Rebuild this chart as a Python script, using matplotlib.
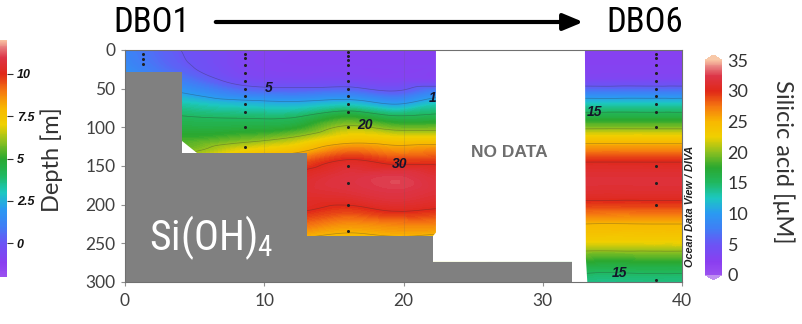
import numpy as np
import matplotlib
matplotlib.use("Agg")
import matplotlib.pyplot as plt
import matplotlib.tri as mtri
from matplotlib.colors import LinearSegmentedColormap, Normalize
from matplotlib.cm import ScalarMappable
from matplotlib.patches import Polygon, FancyArrowPatch

# ---------------- data ----------------
grid_x = [0, 4, 8.6, 12, 16, 19.5, 22.5, 33, 38, 40]
grid_depth = [0, 20, 40, 55, 70, 85, 100, 115, 130, 145, 165, 185, 205, 225, 245, 265, 285, 300]

si_x0 = [8, 8.5, 10, 12, 14, 16, 18, 20, 22, 24, 26, 27, 27, 26, 25, 24, 22, 21]
si_x4 = [5, 5.5, 7.5, 10, 13, 15, 16.5, 18, 19.5, 22, 25, 27, 27, 26, 25, 24, 22, 21]
si_x8 = [3, 3, 4, 7, 11.5, 14.5, 16.5, 19, 22.5, 26, 29, 30, 30, 28, 26, 24, 22, 21]
si_x12 = [2.5, 2.5, 3.5, 6.5, 11, 14.5, 17, 20.5, 24, 28, 30.5, 31, 30.5, 28, 25, 23, 21, 20]
si_x16 = [2.5, 2.5, 3.5, 7, 12, 17, 20.5, 23.5, 27.5, 30.5, 32, 31.5, 29.5, 26.5, 24, 22, 20, 19]
si_x19 = [2.5, 2.5, 3, 5.5, 10, 15, 19, 23, 26.5, 29.5, 32.6, 32.2, 30.5, 27, 24.5, 22, 20, 19]
si_x22 = [2.5, 2.5, 3, 8, 12.5, 15.5, 19, 23, 27, 29.5, 31.5, 31.5, 30, 27, 24, 22, 20, 19]
si_x33 = [2.5, 2.5, 3.5, 7.5, 12.5, 16, 19.5, 23.5, 27, 30, 31.5, 31, 28.5, 25, 23, 19, 15.5, 14]
si_x38 = [2.5, 2.5, 3.5, 7.5, 12.5, 16, 19.5, 23.5, 27, 30, 31.5, 31, 28.5, 25, 23, 19, 15.5, 14]
si_x40 = [2.5, 2.5, 3.5, 7.5, 12.5, 16, 19.5, 23.5, 27, 30, 31.5, 31, 28.5, 25, 23, 19, 15.5, 14]

station_x = [1.3, 8.6, 16.0, 38.1]
station_depths = [
    [5, 11, 18],
    [5, 10, 20, 30, 40, 50, 60, 70, 80, 100, 125],
    [3, 8, 13, 20, 30, 40, 50, 60, 70, 80, 100, 150, 172, 200, 234],
    [5, 10, 20, 30, 40, 50, 60, 70, 80, 100, 150, 172, 200, 297],
]

contour_labels = ["5", "20", "30", "10", "15", "15"]
contour_label_x = [10.3, 17.2, 19.75, 22.4, 33.75, 35.5]
contour_label_depth = [49.6, 97.5, 147, 62, 80, 288]

bathy_x = [0, 4.1, 4.1, 13.05, 13.05, 22.1, 22.1, 32.1, 32.1, 0]
bathy_depth = [28, 28, 133, 133, 241, 241, 274, 274, 300, 300]

nodata_x = [22.33, 33.03, 33.1, 33.2, 32.1, 32.1, 22.1, 22.1, 22.33]
nodata_depth = [0, 0, 270, 300, 300, 274, 274, 241, 236]

xticks = [0, 10, 20, 30, 40]
yticks = [0, 50, 100, 150, 200, 250, 300]
cb_ticks = [0, 5, 10, 15, 20, 25, 30, 35]
left_cb_ticks = [0, 2.5, 5, 7.5, 10]
left_cb_labels = ["0", "2.5", "5", "7.5", "10"]

# ---------------- colormap (ODV-like) ----------------
cstops = [
    (0.0, '#9a50f0'), (2, '#8a3ef0'), (5, '#6a55f5'), (7.5, '#3f7ff5'),
    (10, '#2a9af2'), (12.5, '#1cc8c0'), (15, '#20b860'), (17.5, '#2aa830'),
    (20, '#8cc020'), (22.5, '#f0d000'), (25, '#f8b800'), (27.5, '#f57810'),
    (30, '#e02818'), (32.5, '#dd3548'), (34, '#e88080'), (35, '#f8c0a0'),
]
cmap = LinearSegmentedColormap.from_list('odv', [(v / 35.0, c) for v, c in cstops])
cmap.set_under('#c090f0')
cmap.set_over('#f8c8a8')

narrow = ['Liberation Sans Narrow', 'Arial Narrow', 'Roboto Condensed', 'Noto Sans Condensed',
          'Open Sans Condensed', 'Liberation Sans']

W, H = 802, 324
fig = plt.figure(figsize=(W / 100, H / 100), dpi=100)
ax = fig.add_axes([125 / W, 1 - 282 / H, 557 / W, 232 / H])

X, D = np.meshgrid(grid_x, grid_depth)
Z = np.array([si_x0, si_x4, si_x8, si_x12, si_x16, si_x19, si_x22, si_x33, si_x38, si_x40]).T

# smooth rendering of the gridded field with matplotlib's cubic triangle interpolator
tri = mtri.Triangulation(X.ravel(), D.ravel() / 7.5)
interp = mtri.CubicTriInterpolator(tri, Z.ravel(), kind='geom')
xf, df = np.meshgrid(np.linspace(0, 40, 241), np.linspace(0, 300, 181))
zf = interp(xf, df / 7.5)

cs = ax.contourf(xf, df, zf, levels=np.linspace(0, 35, 141), cmap=cmap, extend='both', zorder=1)
cs.set_edgecolor('face')
cs.set_linewidth(0.3)
ax.contour(xf, df, zf, levels=[5, 10, 15, 20, 25, 30], colors='#303030', linewidths=0.5,
           alpha=0.35, zorder=1.2)

for gx in [10, 20, 30]:
    ax.axvline(gx, color='#606060', lw=0.6, alpha=0.18, zorder=1.3)

for sx, sd in zip(station_x, station_depths):
    ax.plot([sx] * len(sd), sd, 'o', ms=2.2, color='#202020', mec='none', zorder=2.5)

for t, lx, ld in zip(contour_labels, contour_label_x, contour_label_depth):
    ax.text(lx, ld, t, fontsize=10, fontweight='bold', fontstyle='italic', color='#14142a',
            ha='center', va='center', family='Liberation Sans', zorder=2.6)

ax.add_patch(Polygon(list(zip(nodata_x, nodata_depth)), closed=True, facecolor='white',
                     edgecolor='none', zorder=3))
ax.add_patch(Polygon([(4.1, 118), (4.1, 133), (5.2, 133)], closed=True, facecolor='white',
                     edgecolor='none', zorder=3))
ax.add_patch(Polygon(list(zip(bathy_x, bathy_depth)), closed=True, facecolor='#808080',
                     edgecolor='none', zorder=4))

ax.text(27.6, 132, 'NO DATA', fontsize=12.5, fontweight='bold', color='#6e6e6e',
        ha='center', va='center', family='Liberation Sans', zorder=5)
ax.text(1.7, 243, 'Si(OH)$_\\mathregular{4}$', fontsize=30, color='white', ha='left', va='center',
        family=narrow, stretch='condensed', zorder=5)

ax.set_xlim(0, 40)
ax.set_ylim(300, 0)
ax.set_xticks(xticks)
ax.set_yticks(yticks)
for lab in ax.get_xticklabels() + ax.get_yticklabels():
    lab.set_family('Lato')
ax.tick_params(labelsize=12.5, labelcolor='#404040', color='#909090', length=3, width=0.8)
ax.tick_params(axis='x', pad=5)
ax.tick_params(axis='y', pad=4)
for s in ax.spines.values():
    s.set_color('#707070')
    s.set_linewidth(0.8)
    s.set_zorder(6)

fig.text(690 / W, 1 - 206 / H, 'Ocean Data View / DIVA', rotation=90, fontsize=7.8,
         fontweight='bold', fontstyle='italic', color='#202020', ha='center', va='center',
         family='Liberation Sans')

# right colorbar
cax = fig.add_axes([705 / W, 1 - 280 / H, 17 / W, 225 / H])
cb = fig.colorbar(ScalarMappable(norm=Normalize(0, 35), cmap=cmap), cax=cax, extend='both',
                  extendfrac=0.025, ticks=cb_ticks)
cb.outline.set_visible(False)
cax.tick_params(length=0, pad=4, labelsize=13, labelcolor='#333333')
for lab in cax.get_yticklabels():
    lab.set_family('Lato')
fig.text(783 / W, 1 - 162 / H, 'Silicic acid [µM]', rotation=270, fontsize=17, color='#333333',
         ha='center', va='center', family='Lato')

# left partial colorbar (from neighbouring panel)
lcax = fig.add_axes([-10 / W, 1 - 277 / H, 17 / W, 237 / H])
lcb = fig.colorbar(ScalarMappable(norm=Normalize(-2, 12), cmap=LinearSegmentedColormap.from_list(
    'odv2', [(v / 35.0, c) for v, c in cstops])), cax=lcax, ticks=left_cb_ticks)
lcb.outline.set_visible(False)
lcax.set_yticklabels(left_cb_labels)
lcax.tick_params(length=4, width=0.8, color='#303030', pad=3, labelsize=9, labelcolor='#111111')
for lab in lcax.get_yticklabels():
    lab.set_fontstyle('italic')
    lab.set_fontweight('bold')
    lab.set_family('Liberation Sans')
fig.text(52 / W, 1 - 160 / H, 'Depth [m]', rotation=90, fontsize=17, color='#333333',
         ha='center', va='center', family='Lato')

# title with arrow
fig.text(113 / W, 1 - 23 / H, 'DBO1', fontsize=25, ha='left', va='center', color='black',
         family=narrow, stretch='condensed')
fig.text(683 / W, 1 - 23 / H, 'DBO6', fontsize=25, ha='right', va='center', color='black',
         family=narrow, stretch='condensed')
arr = FancyArrowPatch((213 / W, 1 - 22 / H), (586 / W, 1 - 22 / H), transform=fig.transFigure,
                      arrowstyle='-|>,head_length=0.6,head_width=0.25', mutation_scale=20,
                      lw=3, color='black')
fig.add_artist(arr)

fig.savefig('out.png', dpi=100)
